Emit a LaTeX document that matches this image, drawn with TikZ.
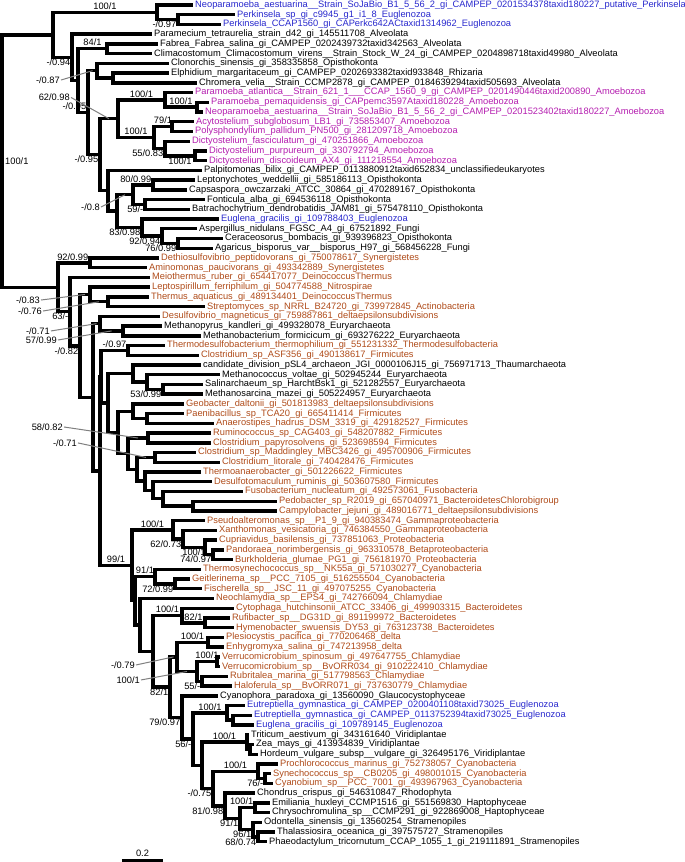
\documentclass[tikz,border=0pt]{standalone}
\usepackage{fontspec}
\setmainfont{Liberation Sans}
\usetikzlibrary{positioning}
\definecolor{eugblue}{RGB}{40,40,205}
\definecolor{amomag}{RGB}{180,30,175}
\definecolor{bacbrown}{RGB}{175,75,25}
\begin{document}
\catcode`\_=12
\begin{tikzpicture}[x=1pt, y=-9.73pt,
  every node/.style={font=\fontsize{9.3}{10}\selectfont},
  leaf/.style={anchor=west, inner xsep=2pt, inner ysep=0pt},
  br/.style={line width=3.4pt, line join=miter},
  sup/.style={inner sep=1pt},
  labup/.style={sup, above=1.5pt},
  labdn/.style={sup, below=0.3pt},
  labupl/.style={sup, above left=1.5pt and 0.5pt},
  labdnl/.style={sup, below left=0.3pt and 0.5pt},
  lead/.style={draw=gray, line width=1pt}]
\useasboundingbox (0,0.486) rectangle (685,89.08);
% leaves
\node[leaf, text=eugblue] (L1) at (193,1) {Neoparamoeba_aestuarina__Strain_SoJaBio_B1_5_56_2_gi_CAMPEP_0201534378taxid180227_putative_Perkinsela};
\node[leaf, text=eugblue] (L2) at (235,2) {Perkinsela_sp_gi_c9945_g1_i1_8_Euglenozoa};
\node[leaf, text=eugblue] (L3) at (221,3) {Perkinsela_CCAP1560_gi_CAPerkc642ACtaxid1314962_Euglenozoa};
\node[leaf] (L4) at (152,4) {Paramecium_tetraurelia_strain_d42_gi_145511708_Alveolata};
\node[leaf] (L5) at (158,5) {Fabrea_Fabrea_salina_gi_CAMPEP_0202439732taxid342563_Alveolata};
\node[leaf] (L6) at (152,6) {Climacostomum_Climacostomum_virens__Strain_Stock_W_24_gi_CAMPEP_0204898718taxid49980_Alveolata};
\node[leaf] (L7) at (169,7) {Clonorchis_sinensis_gi_358335858_Opisthokonta};
\node[leaf] (L8) at (169,8) {Elphidium_margaritaceum_gi_CAMPEP_0202693382taxid933848_Rhizaria};
\node[leaf] (L9) at (197,9) {Chromera_velia__Strain_CCMP2878_gi_CAMPEP_0184639294taxid505693_Alveolata};
\node[leaf, text=amomag] (L10) at (193,10) {Paramoeba_atlantica__Strain_621_1___CCAP_1560_9_gi_CAMPEP_0201490446taxid200890_Amoebozoa};
\node[leaf, text=amomag] (L11) at (209,11) {Paramoeba_pemaquidensis_gi_CAPpemc3597Ataxid180228_Amoebozoa};
\node[leaf, text=amomag] (L12) at (203,12) {Neoparamoeba_aestuarina__Strain_SoJaBio_B1_5_56_2_gi_CAMPEP_0201523402taxid180227_Amoebozoa};
\node[leaf, text=amomag] (L13) at (194,13) {Acytostelium_subglobosum_LB1_gi_735853407_Amoebozoa};
\node[leaf, text=amomag] (L14) at (193,14) {Polysphondylium_pallidum_PN500_gi_281209718_Amoebozoa};
\node[leaf, text=amomag] (L15) at (190,15) {Dictyostelium_fasciculatum_gi_470251866_Amoebozoa};
\node[leaf, text=amomag] (L16) at (207,16) {Dictyostelium_purpureum_gi_330792794_Amoebozoa};
\node[leaf, text=amomag] (L17) at (207,17) {Dictyostelium_discoideum_AX4_gi_111218554_Amoebozoa};
\node[leaf] (L18) at (202,18) {Palpitomonas_bilix_gi_CAMPEP_0113880912taxid652834_unclassifiedeukaryotes};
\node[leaf] (L19) at (195,19) {Leptonychotes_weddellii_gi_585186113_Opisthokonta};
\node[leaf] (L20) at (187,20) {Capsaspora_owczarzaki_ATCC_30864_gi_470289167_Opisthokonta};
\node[leaf] (L21) at (205,21) {Fonticula_alba_gi_694536118_Opisthokonta};
\node[leaf] (L22) at (190,22) {Batrachochytrium_dendrobatidis_JAM81_gi_575478110_Opisthokonta};
\node[leaf, text=eugblue] (L23) at (219,23) {Euglena_gracilis_gi_109788403_Euglenozoa};
\node[leaf] (L24) at (197,24) {Aspergillus_nidulans_FGSC_A4_gi_67521892_Fungi};
\node[leaf] (L25) at (223,25) {Ceraceosorus_bombacis_gi_939396823_Opisthokonta};
\node[leaf] (L26) at (213,26) {Agaricus_bisporus_var__bisporus_H97_gi_568456228_Fungi};
\node[leaf, text=bacbrown] (L27) at (159,27) {Dethiosulfovibrio_peptidovorans_gi_750078617_Synergistetes};
\node[leaf, text=bacbrown] (L28) at (147,28) {Aminomonas_paucivorans_gi_493342889_Synergistetes};
\node[leaf, text=bacbrown] (L29) at (150,29) {Meiothermus_ruber_gi_654417077_DeinococcusThermus};
\node[leaf, text=bacbrown] (L30) at (150,30) {Leptospirillum_ferriphilum_gi_504774588_Nitrospirae};
\node[leaf, text=bacbrown] (L31) at (149,31) {Thermus_aquaticus_gi_489134401_DeinococcusThermus};
\node[leaf, text=bacbrown] (L32) at (205,32) {Streptomyces_sp_NRRL_B24720_gi_739972845_Actinobacteria};
\node[leaf, text=bacbrown] (L33) at (160,33) {Desulfovibrio_magneticus_gi_759887861_deltaepsilonsubdivisions};
\node[leaf] (L34) at (162,34) {Methanopyrus_kandleri_gi_499328078_Euryarchaeota};
\node[leaf] (L35) at (201,35) {Methanobacterium_formicicum_gi_693276222_Euryarchaeota};
\node[leaf, text=bacbrown] (L36) at (165,36) {Thermodesulfobacterium_thermophilium_gi_551231332_Thermodesulfobacteria};
\node[leaf, text=bacbrown] (L37) at (199,37) {Clostridium_sp_ASF356_gi_490138617_Firmicutes};
\node[leaf] (L38) at (201,38) {candidate_division_pSL4_archaeon_JGI_0000106J15_gi_756971713_Thaumarchaeota};
\node[leaf] (L39) at (220,39) {Methanococcus_voltae_gi_502945244_Euryarchaeota};
\node[leaf] (L40) at (203,40) {Salinarchaeum_sp_HarchtBsk1_gi_521282557_Euryarchaeota};
\node[leaf] (L41) at (203,41) {Methanosarcina_mazei_gi_505224957_Euryarchaeota};
\node[leaf, text=bacbrown] (L42) at (184,42) {Geobacter_daltonii_gi_501813983_deltaepsilonsubdivisions};
\node[leaf, text=bacbrown] (L43) at (184,43) {Paenibacillus_sp_TCA20_gi_665411414_Firmicutes};
\node[leaf, text=bacbrown] (L44) at (214,44) {Anaerostipes_hadrus_DSM_3319_gi_429182527_Firmicutes};
\node[leaf, text=bacbrown] (L45) at (211,45) {Ruminococcus_sp_CAG403_gi_548207882_Firmicutes};
\node[leaf, text=bacbrown] (L46) at (211,46) {Clostridium_papyrosolvens_gi_523698594_Firmicutes};
\node[leaf, text=bacbrown] (L47) at (196,47) {Clostridium_sp_Maddingley_MBC3426_gi_495700906_Firmicutes};
\node[leaf, text=bacbrown] (L48) at (220,48) {Clostridium_litorale_gi_740428476_Firmicutes};
\node[leaf, text=bacbrown] (L49) at (201,49) {Thermoanaerobacter_gi_501226622_Firmicutes};
\node[leaf, text=bacbrown] (L50) at (212,50) {Desulfotomaculum_ruminis_gi_503607580_Firmicutes};
\node[leaf, text=bacbrown] (L51) at (243,51) {Fusobacterium_nucleatum_gi_492573061_Fusobacteria};
\node[leaf, text=bacbrown] (L52) at (277,52) {Pedobacter_sp_R2019_gi_657040971_BacteroidetesChlorobigroup};
\node[leaf, text=bacbrown] (L53) at (277,53) {Campylobacter_jejuni_gi_489016771_deltaepsilonsubdivisions};
\node[leaf, text=bacbrown] (L54) at (205,54) {Pseudoalteromonas_sp__P1_9_gi_940383474_Gammaproteobacteria};
\node[leaf, text=bacbrown] (L55) at (217,55) {Xanthomonas_vesicatoria_gi_746384550_Gammaproteobacteria};
\node[leaf, text=bacbrown] (L56) at (217,56) {Cupriavidus_basilensis_gi_737851063_Proteobacteria};
\node[leaf, text=bacbrown] (L57) at (224,57) {Pandoraea_norimbergensis_gi_963310578_Betaproteobacteria};
\node[leaf, text=bacbrown] (L58) at (233,58) {Burkholderia_glumae_PG1_gi_756181970_Proteobacteria};
\node[leaf, text=bacbrown] (L59) at (201,59) {Thermosynechococcus_sp__NK55a_gi_571030277_Cyanobacteria};
\node[leaf, text=bacbrown] (L60) at (190,60) {Geitlerinema_sp__PCC_7105_gi_516255504_Cyanobacteria};
\node[leaf, text=bacbrown] (L61) at (202,61) {Fischerella_sp__JSC_11_gi_497075255_Cyanobacteria};
\node[leaf, text=bacbrown] (L62) at (214,62) {Neochlamydia_sp__EPS4_gi_742766094_Chlamydiae};
\node[leaf, text=bacbrown] (L63) at (234,63) {Cytophaga_hutchinsonii_ATCC_33406_gi_499903315_Bacteroidetes};
\node[leaf, text=bacbrown] (L64) at (230,64) {Rufibacter_sp__DG31D_gi_891199972_Bacteroidetes};
\node[leaf, text=bacbrown] (L65) at (234,65) {Hymenobacter_swuensis_DY53_gi_763123738_Bacteroidetes};
\node[leaf, text=bacbrown] (L66) at (224,66) {Plesiocystis_pacifica_gi_770206468_delta};
\node[leaf, text=bacbrown] (L67) at (224,67) {Enhygromyxa_salina_gi_747213958_delta};
\node[leaf, text=bacbrown] (L68) at (220,68) {Verrucomicrobium_spinosum_gi_497647755_Chlamydiae};
\node[leaf, text=bacbrown] (L69) at (220,69) {Verrucomicrobium_sp__BvORR034_gi_910222410_Chlamydiae};
\node[leaf, text=bacbrown] (L70) at (228,70) {Rubritalea_marina_gi_517798563_Chlamydiae};
\node[leaf, text=bacbrown] (L71) at (232,71) {Haloferula_sp__BvORR071_gi_737630779_Chlamydiae};
\node[leaf] (L72) at (218,72) {Cyanophora_paradoxa_gi_13560090_Glaucocystophyceae};
\node[leaf, text=eugblue] (L73) at (245,73) {Eutreptiella_gymnastica_gi_CAMPEP_0200401108taxid73025_Euglenozoa};
\node[leaf, text=eugblue] (L74) at (252,74) {Eutreptiella_gymnastica_gi_CAMPEP_0113752394taxid73025_Euglenozoa};
\node[leaf, text=eugblue] (L75) at (254,75) {Euglena_gracilis_gi_109789145_Euglenozoa};
\node[leaf] (L76) at (249,76) {Triticum_aestivum_gi_343161640_Viridiplantae};
\node[leaf] (L77) at (254,77) {Zea_mays_gi_413934839_Viridiplantae};
\node[leaf] (L78) at (258,78) {Hordeum_vulgare_subsp__vulgare_gi_326495176_Viridiplantae};
\node[leaf, text=bacbrown] (L79) at (278,79) {Prochlorococcus_marinus_gi_752738057_Cyanobacteria};
\node[leaf, text=bacbrown] (L80) at (271,80) {Synechococcus_sp__CB0205_gi_498001015_Cyanobacteria};
\node[leaf, text=bacbrown] (L81) at (273,81) {Cyanobium_sp__PCC_7001_gi_493967963_Cyanobacteria};
\node[leaf] (L82) at (255,82) {Chondrus_crispus_gi_546310847_Rhodophyta};
\node[leaf] (L83) at (270,83) {Emiliania_huxleyi_CCMP1516_gi_551569830_Haptophyceae};
\node[leaf] (L84) at (270,84) {Chrysochromulina_sp__CCMP291_gi_922869008_Haptophyceae};
\node[leaf] (L85) at (262,85) {Odontella_sinensis_gi_13560254_Stramenopiles};
\node[leaf] (L86) at (275,86) {Thalassiosira_oceanica_gi_397575727_Stramenopiles};
\node[leaf] (L87) at (267,87) {Phaeodactylum_tricornutum_CCAP_1055_1_gi_219111891_Stramenopiles};
% inner nodes, eukaryote part
\coordinate (Root) at (2,17.04);
\coordinate (R1) at (53,4.071);
\coordinate (A) at (157,1.75);
\coordinate (P23) at (178,2.5);
\coordinate (B) at (72,6.393);
\coordinate (C) at (78,8.785);
\coordinate (F56) at (107,5.5);
\coordinate (D) at (88,12.07);
\coordinate (G) at (97,7.75);
\coordinate (EC) at (113,8.5);
\coordinate (H) at (100,16.39);
\coordinate (Amoeb) at (118,12.69);
\coordinate (Pa) at (165,10.75);
\coordinate (PN) at (197,11.5);
\coordinate (Dic) at (154,14.63);
\coordinate (AP) at (172,13.5);
\coordinate (DD) at (165,15.75);
\coordinate (DPD) at (195,16.5);
\coordinate (O) at (108,20.09);
\coordinate (Q) at (117,22.19);
\coordinate (R) at (133,20.5);
\coordinate (LC) at (153,19.5);
\coordinate (FB) at (145,21.5);
\coordinate (S) at (142,23.88);
\coordinate (AC) at (162,24.75);
\coordinate (CA) at (178,25.5);
% inner nodes, bacterial part
\coordinate (X0) at (58,30.01);
\coordinate (Syn) at (90,27.5);
\coordinate (X1) at (70,32.52);
\coordinate (X2) at (80,36.04);
\coordinate (LT) at (90,30.75);
\coordinate (TS) at (108,31.5);
\coordinate (X3) at (93,41.32);
\coordinate (DMM) at (100,33.75);
\coordinate (MM) at (123,34.5);
\coordinate (X4) at (100,48.89);
\coordinate (T) at (101,39.2);
\coordinate (TC) at (128,36.5);
\coordinate (T2) at (108,41.9);
\coordinate (AR) at (133,38.88);
\coordinate (MS) at (147,39.75);
\coordinate (SM) at (163,40.5);
\coordinate (Firm) at (118,44.93);
\coordinate (G1) at (133,42.75);
\coordinate (G2) at (147,43.5);
\coordinate (Fa) at (128,47.11);
\coordinate (RP) at (148,45.5);
\coordinate (Fb) at (137,48.72);
\coordinate (ML) at (155,47.5);
\coordinate (Fc) at (145,49.94);
\coordinate (Fd) at (153,50.88);
\coordinate (Fe) at (163,51.75);
\coordinate (PC) at (193,52.5);
\coordinate (K2) at (132,58.59);
\coordinate (GA) at (173,54.94);
\coordinate (XC) at (183,55.88);
\coordinate (CPB) at (205,56.75);
\coordinate (PB) at (213,57.5);
\coordinate (K3) at (135,62.23);
\coordinate (CYB) at (155,59.75);
\coordinate (GF) at (175,60.5);
\coordinate (Y) at (140,64.72);
\coordinate (N153) at (153,67.43);
\coordinate (BAC) at (182,63.75);
\coordinate (RH) at (205,64.5);
\coordinate (N170) at (170,71.11);
\coordinate (PV) at (177,68);
\coordinate (PE) at (208,66.5);
\coordinate (VG) at (197,69.5);
\coordinate (Verr) at (217,68.5);
\coordinate (RHal) at (202,70.5);
\coordinate (N182) at (182,74.22);
\coordinate (EU) at (193,76.45);
\coordinate (Eut) at (227,73.75);
\coordinate (EG) at (233,74.5);
\coordinate (VPCC) at (202,79.14);
\coordinate (VP) at (247,76.75);
\coordinate (ZH) at (250,77.5);
\coordinate (CYCH) at (213,81.53);
\coordinate (CY) at (258,79.75);
\coordinate (SC) at (265,80.5);
\coordinate (CHON) at (225,83.31);
\coordinate (HS) at (240,84.63);
\coordinate (Hapto) at (255,83.5);
\coordinate (Stram) at (253,85.75);
\coordinate (TP) at (258,86.5);
% branches
\draw[br] (Root) |- (R1); \draw[br] (Root) |- (X0);
\draw[br] (R1) |- coordinate[pos=.75] (mA) (A); \draw[br] (R1) |- (B);
\draw[br] (A) |- (L1); \draw[br] (A) |- (P23);
\draw[br] (P23) |- (L2); \draw[br] (P23) |- (L3);
\draw[br] (B) |- (L4); \draw[br] (B) |- (C);
\draw[br] (C) |- coordinate[pos=.75] (mF56) (F56); \draw[br] (C) |- (D);
\draw[br] (F56) |- (L5); \draw[br] (F56) |- (L6);
\draw[br] (D) |- coordinate[pos=.75] (mG) (G); \draw[br] (D) |- (H);
\draw[br] (G) |- (L7); \draw[br] (G) |- (EC);
\draw[br] (EC) |- (L8); \draw[br] (EC) |- (L9);
\draw[br] (H) |- coordinate[pos=.75] (mAmoeb) (Amoeb); \draw[br] (H) |- (O);
\draw[br] (Amoeb) |- coordinate[pos=.75] (mPa) (Pa); \draw[br] (Amoeb) |- coordinate[pos=.75] (mDic) (Dic);
\draw[br] (Pa) |- (L10); \draw[br] (Pa) |- coordinate[pos=.75] (mPN) (PN);
\draw[br] (PN) |- (L11); \draw[br] (PN) |- (L12);
\draw[br] (Dic) |- coordinate[pos=.75] (mAP) (AP); \draw[br] (Dic) |- (DD);
\draw[br] (AP) |- (L13); \draw[br] (AP) |- (L14);
\draw[br] (DD) |- (L15); \draw[br] (DD) |- coordinate[pos=.75] (mDPD) (DPD);
\draw[br] (DPD) |- (L16); \draw[br] (DPD) |- (L17);
\draw[br] (O) |- (L18); \draw[br] (O) |- (Q);
\draw[br] (Q) |- coordinate[pos=.75] (mR) (R); \draw[br] (Q) |- (S);
\draw[br] (R) |- (LC); \draw[br] (R) |- (FB);
\draw[br] (LC) |- (L19); \draw[br] (LC) |- (L20);
\draw[br] (FB) |- (L21); \draw[br] (FB) |- (L22);
\draw[br] (S) |- (L23); \draw[br] (S) |- (AC);
\draw[br] (AC) |- (L24); \draw[br] (AC) |- (CA);
\draw[br] (CA) |- (L25); \draw[br] (CA) |- (L26);
\draw[br] (X0) |- (Syn); \draw[br] (X0) |- (X1);
\draw[br] (Syn) |- (L27); \draw[br] (Syn) |- (L28);
\draw[br] (X1) |- (L29); \draw[br] (X1) |- (X2);
\draw[br] (X2) |- coordinate[pos=.75] (mLT) (LT); \draw[br] (X2) |- (X3);
\draw[br] (LT) |- (L30); \draw[br] (LT) |- coordinate[pos=.75] (mTS) (TS);
\draw[br] (TS) |- (L31); \draw[br] (TS) |- (L32);
\draw[br] (X3) |- coordinate[pos=.75] (mDMM) (DMM); \draw[br] (X3) |- (X4);
\draw[br] (DMM) |- (L33); \draw[br] (DMM) |- coordinate[pos=.75] (mMM) (MM);
\draw[br] (MM) |- (L34); \draw[br] (MM) |- (L35);
\draw[br] (X4) |- (T); \draw[br] (X4) |- coordinate[pos=.75] (mK2) (K2);
\draw[br] (T) |- coordinate[pos=.75] (mTC) (TC); \draw[br] (T) |- (T2);
\draw[br] (TC) |- (L36); \draw[br] (TC) |- (L37);
\draw[br] (T2) |- (AR); \draw[br] (T2) |- (Firm);
\draw[br] (AR) |- (L38); \draw[br] (AR) |- (MS);
\draw[br] (MS) |- (L39); \draw[br] (MS) |- (SM);
\draw[br] (SM) |- (L40); \draw[br] (SM) |- (L41);
\draw[br] (Firm) |- (G1); \draw[br] (Firm) |- (Fa);
\draw[br] (G1) |- (L42); \draw[br] (G1) |- (G2);
\draw[br] (G2) |- (L43); \draw[br] (G2) |- (L44);
\draw[br] (Fa) |- coordinate[pos=.75] (mRP) (RP); \draw[br] (Fa) |- (Fb);
\draw[br] (RP) |- (L45); \draw[br] (RP) |- (L46);
\draw[br] (Fb) |- coordinate[pos=.75] (mML) (ML); \draw[br] (Fb) |- (Fc);
\draw[br] (ML) |- (L47); \draw[br] (ML) |- (L48);
\draw[br] (Fc) |- (L49); \draw[br] (Fc) |- (Fd);
\draw[br] (Fd) |- (L50); \draw[br] (Fd) |- (Fe);
\draw[br] (Fe) |- (L51); \draw[br] (Fe) |- (PC);
\draw[br] (PC) |- (L52); \draw[br] (PC) |- (L53);
\draw[br] (K2) |- coordinate[pos=.75] (mGA) (GA); \draw[br] (K2) |- (K3);
\draw[br] (GA) |- (L54); \draw[br] (GA) |- (XC);
\draw[br] (XC) |- (L55); \draw[br] (XC) |- coordinate[pos=.75] (mCPB) (CPB);
\draw[br] (CPB) |- (L56); \draw[br] (CPB) |- (PB);
\draw[br] (PB) |- (L57); \draw[br] (PB) |- (L58);
\draw[br] (K3) |- coordinate[pos=.75] (mCYB) (CYB); \draw[br] (K3) |- (Y);
\draw[br] (CYB) |- (L59); \draw[br] (CYB) |- (GF);
\draw[br] (GF) |- (L60); \draw[br] (GF) |- (L61);
\draw[br] (Y) |- (L62); \draw[br] (Y) |- (N153);
\draw[br] (N153) |- coordinate[pos=.75] (mBAC) (BAC); \draw[br] (N153) |- (N170);
\draw[br] (BAC) |- (L63); \draw[br] (BAC) |- coordinate[pos=.75] (mRH) (RH);
\draw[br] (RH) |- (L64); \draw[br] (RH) |- (L65);
\draw[br] (N170) |- coordinate[pos=.75] (mPV) (PV); \draw[br] (N170) |- (N182);
\draw[br] (PV) |- coordinate[pos=.75] (mPE) (PE); \draw[br] (PV) |- coordinate[pos=.75] (mVG) (VG);
\draw[br] (PE) |- (L66); \draw[br] (PE) |- (L67);
\draw[br] (VG) |- coordinate[pos=.75] (mVerr) (Verr); \draw[br] (VG) |- (RHal);
\draw[br] (Verr) |- (L68); \draw[br] (Verr) |- (L69);
\draw[br] (RHal) |- (L70); \draw[br] (RHal) |- (L71);
\draw[br] (N182) |- (L72); \draw[br] (N182) |- (EU);
\draw[br] (EU) |- coordinate[pos=.75] (mEut) (Eut); \draw[br] (EU) |- (VPCC);
\draw[br] (Eut) |- (L73); \draw[br] (Eut) |- (EG);
\draw[br] (EG) |- (L74); \draw[br] (EG) |- (L75);
\draw[br] (VPCC) |- coordinate[pos=.75] (mVP) (VP); \draw[br] (VPCC) |- (CYCH);
\draw[br] (VP) |- (L76); \draw[br] (VP) |- (ZH);
\draw[br] (ZH) |- (L77); \draw[br] (ZH) |- (L78);
\draw[br] (CYCH) |- coordinate[pos=.75] (mCY) (CY); \draw[br] (CYCH) |- (CHON);
\draw[br] (CY) |- (L79); \draw[br] (CY) |- (SC);
\draw[br] (SC) |- (L80); \draw[br] (SC) |- (L81);
\draw[br] (CHON) |- (L82); \draw[br] (CHON) |- (HS);
\draw[br] (HS) |- (Hapto); \draw[br] (HS) |- (Stram);
\draw[br] (Hapto) |- (L83); \draw[br] (Hapto) |- (L84);
\draw[br] (Stram) |- (L85); \draw[br] (Stram) |- (TP);
\draw[br] (TP) |- (L86); \draw[br] (TP) |- (L87);
% support values
\node[sup, right=2pt] (sRoot) at (Root) {100/1};
\node[labup] (sA) at (mA) {100/1};
\node[labdnl] (sP23) at (P23) {-/0.97};
\node[labdnl] (sB) at (B) {-/0.94};
\node[labup] (sF56) at (mF56) {84/1};
\node[labupl] (sD) at (D) {-/0.95};
\node[labdnl] (sH) at (H) {-/0.95};
\node[labup] (sPa) at (mPa) {100/1};
\node[labup] (sPN) at (mPN) {100/1};
\node[labup] (sDic) at (mDic) {100/1};
\node[labup] (sAP) at (mAP) {79/1};
\node[labdnl] (sDD) at (DD) {55/0.83};
\node[labdn] (sDPD) at (mDPD) {100/1};
\node[labupl] (sLC) at (LC) {80/0.99};
\node[labdnl] (sFB) at (FB) {59/-};
\node[labdnl] (sS) at (S) {83/0.98};
\node[labdnl] (sAC) at (AC) {92/0.94};
\node[labdnl] (sCA) at (CA) {76/0.99};
\node[labupl] (sSyn) at (Syn) {92/0.99};
\node[labdnl] (sX1) at (X1) {63/-};
\node[labdnl] (sX2) at (X2) {-/0.82};
\node[labup] (sTC) at (mTC) {-/0.97};
\node[labdnl] (sSM) at (SM) {53/0.99};
\node[labup] (sGA) at (mGA) {100/1};
\node[labdnl] (sXC) at (XC) {62/0.73};
\node[labdn] (sCPB) at (mCPB) {100/1};
\node[labdnl] (sPB) at (PB) {74/0.97};
\node[labup] (sK2) at (mK2) {99/1};
\node[labup] (sCYB) at (mCYB) {91/1};
\node[labdnl] (sGF) at (GF) {72/0.99};
\node[labup] (sBAC) at (mBAC) {100/1};
\node[labup] (sRH) at (mRH) {82/1};
\node[labup] (sPE) at (mPE) {100/1};
\node[labup] (sVerr) at (mVerr) {100/1};
\node[labdnl] (sRHal) at (RHal) {55/-};
\node[labdnl] (sN170) at (N170) {82/1};
\node[labdnl] (sN182) at (N182) {79/0.97};
\node[labup] (sEut) at (mEut) {100/1};
\node[labdnl] (sEU) at (EU) {56/-};
\node[labup] (sVP) at (mVP) {100/1};
\node[labup] (sCY) at (mCY) {100/1};
\node[labdnl] (sSC) at (SC) {76/-};
\node[labdnl] (sCYCH) at (CYCH) {-/0.75};
\node[labdnl] (sCHON) at (CHON) {81/0.98};
\node[labupl] (sHapto) at (Hapto) {100/1};
\node[labdnl] (sHS) at (HS) {91/1};
\node[labdnl] (sStram) at (Stram) {96/1};
\node[labdnl] (sTP) at (TP) {68/0.74};
% support values with leader lines
\node[sup, anchor=east] (sG) at (61,8.71) {-/0.87};
\node[sup, anchor=east] (sAmoeb) at (71,10.5) {62/0.98};
\node[sup, anchor=east] (sR) at (101,21.76) {-/0.8};
\node[sup, anchor=east] (sLT) at (41,31.32) {-/0.83};
\node[sup, anchor=east] (sTS) at (43,32.45) {-/0.76};
\node[sup, anchor=east] (sDMM) at (51,34.5) {-/0.71};
\node[sup, anchor=east] (sMM) at (58,35.43) {57/0.99};
\node[sup, anchor=east] (sRP) at (64,44.37) {58/0.82};
\node[sup, anchor=east] (sML) at (78,46.01) {-/0.71};
\node[sup, anchor=east] (sPV) at (136,68.83) {-/0.79};
\node[sup, anchor=east] (sVG) at (141,70.37) {100/1};
\draw[lead] (sG.east) -- (mG);
\draw[lead] (sAmoeb.east) -- (mAmoeb);
\draw[lead] (sR.east) -- (mR);
\draw[lead] (sLT.east) -- (mLT);
\draw[lead] (sTS.east) -- (mTS);
\draw[lead] (sDMM.east) -- (mDMM);
\draw[lead] (sMM.east) -- (mMM);
\draw[lead] (sRP.east) -- (mRP);
\draw[lead] (sML.east) -- (mML);
\draw[lead] (sPV.east) -- (mPV);
\draw[lead] (sVG.east) -- (mVG);
% scale bar
\coordinate (sb0) at (122,88.92);
\coordinate (sb1) at (163,88.92);
\draw[br] (sb0) -- node[sup, above=1.5pt] (sbl) {0.2} (sb1);
\end{tikzpicture}
\end{document}
